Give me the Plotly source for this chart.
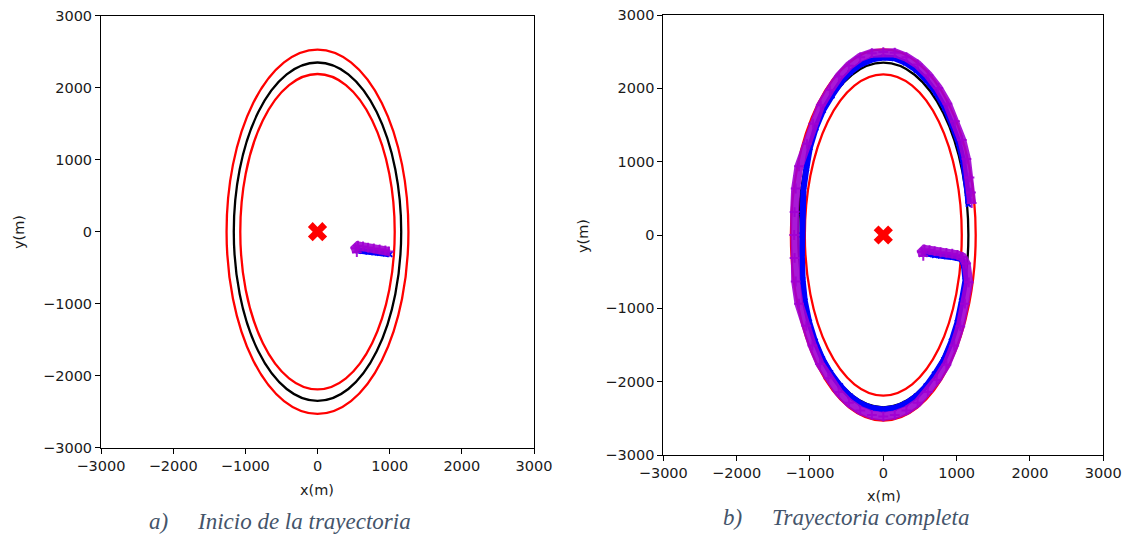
import plotly.graph_objects as go

W, H = 1129, 540

# Reference ellipses (semi-axes in metres): inner red, black, outer red
ELL_A = [1070, 1160, 1260]
ELL_B = [2190, 2350, 2530]
ELL_COLORS = ["red", "black", "red"]

# Panel a) : beginning of trajectory
BLUE_A_X = [560, 620, 700, 780, 860, 940, 1000]
BLUE_A_Y = [-260, -270, -280, -290, -298, -305, -315]
PURP_A_X = [545, 525, 560, 630, 700, 780, 860, 940, 990]
PURP_A_Y = [-285, -230, -195, -205, -220, -232, -245, -258, -275]

# Panel b) : complete trajectory
BLUE_B_X = [560, 620, 700, 780, 860, 940, 1010, 1070, 1100,
            1120, 1070, 1010, 930, 827, 700, 585, 450, 303, 150, 0,
            -150, -303, -450, -585, -720, -830, -930, -1010, -1070, -1100,
            -1110, -1110, -1105, -1090, -1050, -1000, -920, -820, -700, -580,
            -450, -303, -150, 0, 150, 303, 450, 590, 720, 840,
            940, 1030, 1090, 1130, 1150, 1160]
BLUE_B_Y = [-250, -262, -275, -285, -292, -300, -310, -330, -420,
            -620, -900, -1195, -1450, -1700, -1900, -2060, -2200, -2300, -2360, -2380,
            -2360, -2300, -2200, -2060, -1880, -1690, -1450, -1190, -900, -610,
            -300, 0, 300, 610, 900, 1195, 1460, 1700, 1900, 2080,
            2220, 2330, 2395, 2420, 2410, 2350, 2250, 2110, 1940, 1730,
            1500, 1250, 1000, 760, 560, 420]
PURP_B_X = [545, 525, 560, 630, 700, 780, 860, 940, 1010, 1080, 1130,
            1165, 1113, 1050, 967, 860, 728, 608, 468, 315, 156, 0,
            -156, -315, -468, -608, -749, -863, -967, -1050, -1150, -1195,
            -1210, -1215, -1210, -1195, -1150, -1040, -957, -853, -728, -603,
            -468, -315, -156, 0, 156, 315, 468, 614, 749, 874,
            978, 1071, 1134, 1175, 1196, 1205]
PURP_B_Y = [-285, -230, -195, -205, -220, -235, -245, -255, -270, -300, -390,
            -645, -936, -1243, -1508, -1768, -1976, -2142, -2288, -2392, -2454, -2475,
            -2454, -2392, -2288, -2142, -1955, -1758, -1508, -1238, -936, -634,
            -312, 0, 312, 634, 936, 1243, 1518, 1768, 1976, 2163,
            2309, 2423, 2480, 2495, 2485, 2425, 2325, 2180, 2005, 1790,
            1550, 1295, 1035, 785, 578, 435]

CENTER_X = [0]
CENTER_Y = [0]

TICKS = [-3000, -2000, -1000, 0, 1000, 2000, 3000]
TICK_TEXT = ["\u22123000", "\u22122000", "\u22121000", "0", "1000", "2000", "3000"]

BLUE = "#0000ff"
PURPLE = "rgba(160,0,210,0.9)"

fig = go.Figure()

panels = [
    ("x", "y", BLUE_A_X, BLUE_A_Y, PURP_A_X, PURP_A_Y),
    ("x2", "y2", BLUE_B_X, BLUE_B_Y, PURP_B_X, PURP_B_Y),
]

for xa, ya, bx, by, px, py in panels:
    fig.add_trace(go.Scatter(x=bx, y=by, xaxis=xa, yaxis=ya, mode="lines+markers",
                             line=dict(color=BLUE, width=6),
                             marker=dict(color=BLUE, size=5, symbol="x-thin",
                                         line=dict(color=BLUE, width=2)),
                             showlegend=False, hoverinfo="skip"))
    fig.add_trace(go.Scatter(x=px, y=py, xaxis=xa, yaxis=ya, mode="lines+markers",
                             line=dict(color=PURPLE, width=9),
                             marker=dict(color=PURPLE, size=7, symbol="cross-thin",
                                         line=dict(color=PURPLE, width=2)),
                             showlegend=False, hoverinfo="skip"))
    fig.add_trace(go.Scatter(x=CENTER_X, y=CENTER_Y, xaxis=xa, yaxis=ya, mode="markers",
                             marker=dict(color="red", size=17, symbol="x"),
                             showlegend=False, hoverinfo="skip"))
    for a, b, c in zip(ELL_A, ELL_B, ELL_COLORS):
        fig.add_shape(type="circle", xref=xa, yref=ya, x0=-a, x1=a, y0=-b, y1=b,
                      line=dict(color=c, width=2.3), layer="below")

axis_common = dict(range=[-3000, 3000], tickvals=TICKS, ticktext=TICK_TEXT,
                   showgrid=False, zeroline=False, showline=True, mirror=True,
                   linecolor="black", linewidth=1, ticks="outside", ticklen=5,
                   tickcolor="black", tickwidth=1, automargin=False,
                   tickfont=dict(family="DejaVu Sans", size=14.5, color="#1a1a1a"))

def px_x(p):
    return p / W

def px_y(p):
    return 1 - p / H

fig.update_layout(
    width=W, height=H,
    margin=dict(l=0, r=0, t=0, b=0),
    paper_bgcolor="white", plot_bgcolor="white",
    xaxis=dict(domain=[px_x(101), px_x(534)], anchor="y", **axis_common),
    yaxis=dict(domain=[px_y(447.7), px_y(15.7)], anchor="x", **axis_common),
    xaxis2=dict(domain=[px_x(663.3), px_x(1103.3)], anchor="y2", **axis_common),
    yaxis2=dict(domain=[px_y(455), px_y(15)], anchor="x2", **axis_common),
)

lab_font = dict(family="DejaVu Sans", size=14.5, color="#1a1a1a")
cap_font = dict(family="Liberation Serif", size=23, color="#44546A")

annotations = [
    dict(text="x(m)", x=px_x(317), y=px_y(490), font=lab_font),
    dict(text="x(m)", x=px_x(884), y=px_y(496), font=lab_font),
    dict(text="y(m)", x=px_x(19), y=px_y(232), font=lab_font, textangle=-90),
    dict(text="y(m)", x=px_x(583), y=px_y(236), font=lab_font, textangle=-90),
    dict(text="<i>a)</i>", x=px_x(158), y=px_y(521), font=cap_font),
    dict(text="<i>Inicio de la trayectoria</i>", x=px_x(195), y=px_y(521),
         font=cap_font, xanchor="left"),
    dict(text="<i>b)</i>", x=px_x(732), y=px_y(517), font=cap_font),
    dict(text="<i>Trayectoria completa</i>", x=px_x(770), y=px_y(517),
         font=cap_font, xanchor="left"),
]
for an in annotations:
    an.setdefault("xanchor", "center")
    an.update(xref="paper", yref="paper", showarrow=False, yanchor="middle")
    fig.add_annotation(**an)

fig.write_html("out.html")
